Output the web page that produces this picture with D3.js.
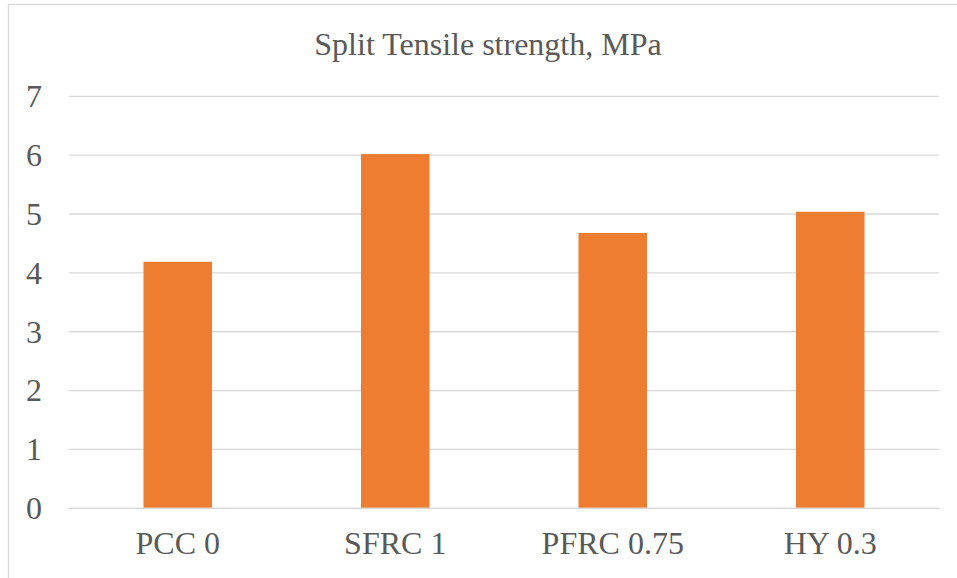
<!DOCTYPE html>
<html>
<head>
<meta charset="utf-8">
<script src="https://cdn.jsdelivr.net/npm/d3@7"></script>
<style>
  html, body { margin: 0; padding: 0; background: #ffffff; }
  svg { display: block; }
</style>
</head>
<body>
<svg id="chart" width="957" height="578"></svg>
<script>
// Split tensile strength per mix
const categories = ["PCC 0", "SFRC 1", "PFRC 0.75", "HY 0.3"];
const values = [4.18, 6.01, 4.67, 5.03];
const yTicks = [0, 1, 2, 3, 4, 5, 6, 7];
const titleText = "Split Tensile strength, MPa";

const svg = d3.select("#chart");
const W = 957, H = 578;
const margin = { left: 69, right: 18, top: 95.8, bottom: 70.2 };
const textColor = "#595959";
const gridColor = "#D9D9D9";
const barColor = "#ED7D31";
const fontFamily = "'Liberation Serif', 'Times New Roman', serif";
const fontSize = 32;

// chart-area frame (extends past the right and bottom edges)
svg.append("rect")
  .attr("x", 8.5).attr("y", 4.5)
  .attr("width", 960).attr("height", 600)
  .attr("fill", "#ffffff")
  .attr("stroke", gridColor)
  .attr("stroke-width", 1.3);

const x = d3.scaleBand()
  .domain(categories)
  .range([margin.left, W - margin.right])
  .paddingInner(0.685)
  .paddingOuter(0.3425);

const y = d3.scaleLinear()
  .domain([0, 7])
  .range([H - margin.bottom, margin.top]);

// horizontal gridlines and y labels
const yAxis = d3.axisLeft(y)
  .tickValues(yTicks)
  .tickSize(-(x.range()[1] - margin.left))
  .tickPadding(27)
  .tickFormat(d3.format("d"));

const gy = svg.append("g")
  .attr("transform", `translate(${margin.left},0)`)
  .call(yAxis);
gy.select(".domain").remove();
gy.selectAll(".tick line")
  .attr("stroke", gridColor)
  .attr("stroke-width", 1.3);
gy.selectAll(".tick text")
  .attr("fill", textColor)
  .attr("font-family", fontFamily)
  .attr("font-size", fontSize)
  .attr("dy", "0.34em");

// bars
svg.append("g")
  .selectAll("rect")
  .data(categories)
  .join("rect")
  .attr("x", d => x(d))
  .attr("width", x.bandwidth())
  .attr("y", (d, i) => y(values[i]))
  .attr("height", (d, i) => y(0) - y(values[i]))
  .attr("fill", barColor);

// category axis
const xAxis = d3.axisBottom(x).tickSize(0).tickPadding(0);
const gx = svg.append("g")
  .attr("transform", `translate(0,${y(0)})`)
  .call(xAxis);
gx.select(".domain")
  .attr("stroke", gridColor)
  .attr("stroke-width", 1.3);
gx.selectAll(".tick text")
  .attr("fill", textColor)
  .attr("font-family", fontFamily)
  .attr("font-size", fontSize)
  .attr("y", 46)
  .attr("dy", 0);

// title
svg.append("text")
  .attr("x", 488)
  .attr("y", 55)
  .attr("text-anchor", "middle")
  .attr("fill", textColor)
  .attr("font-family", fontFamily)
  .attr("font-size", fontSize)
  .text(titleText);
</script>
</body>
</html>
